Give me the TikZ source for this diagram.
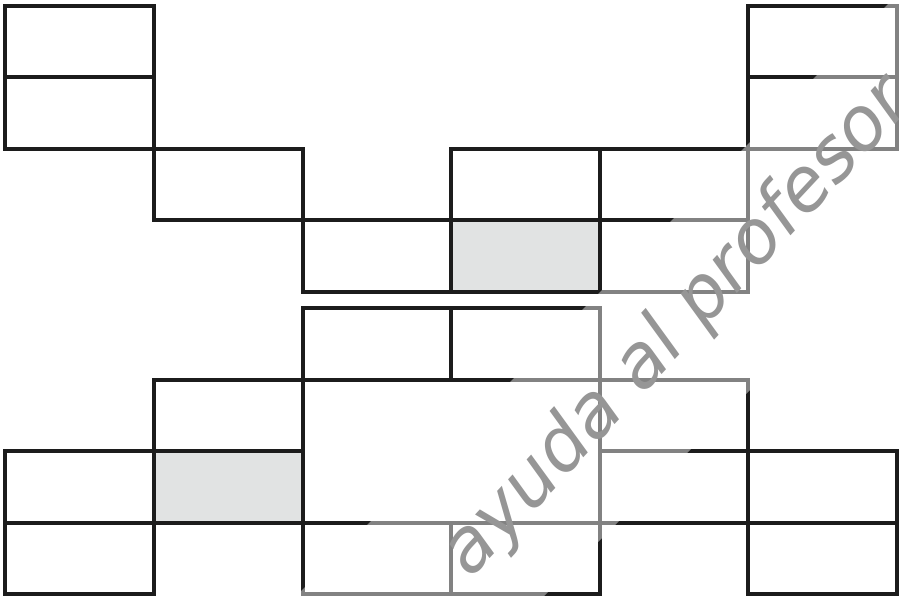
\documentclass[tikz,border=0pt]{standalone}
\usepackage{fontspec}
\newfontfamily\marcafont{DejaVu Sans}
\definecolor{rejilla}{RGB}{28,28,28}
\definecolor{celdagris}{RGB}{225,227,227}
\definecolor{marcagris}{RGB}{150,150,150}

\begin{document}
\begin{tikzpicture}[x=148.5pt, y=-71.5pt,
    linea/.style={rejilla, line width=4pt, line cap=rect, line join=miter},
    marca/.style={marcagris, font=\marcafont\itshape\fontsize{74}{74}\selectfont, inner sep=0pt}]

\useasboundingbox (-5.5pt,5.7pt) rectangle (893.5pt,-590.3pt);

% === Figura superior ===
\fill[celdagris] (3,3) rectangle (4,4);
\draw[linea] (0,0) rectangle (1,2);
\draw[linea] (0,1) -- (1,1);
\draw[linea] (1,2) rectangle (2,3);
\draw[linea] (2,3) rectangle (3,4);
\draw[linea] (3,2) rectangle (5,4);
\draw[linea] (3,3) -- (5,3);
\draw[linea] (4,2) -- (4,4);
\draw[linea] (5,0) rectangle (6,2);
\draw[linea] (5,1) -- (6,1);

% === Figura inferior ===
\begin{scope}[yshift=-302.3pt]
    \fill[celdagris] (1,2) rectangle (2,3);
    \draw[linea] (1,1) rectangle (2,3);
    \draw[linea] (1,2) -- (2,2);
    \draw[linea] (0,2) rectangle (1,4);
    \draw[linea] (0,3) -- (6,3);
    \draw[linea] (2,0) rectangle (4,4);
    \draw[linea] (2,1) -- (4,1);
    \draw[linea] (3,0) -- (3,1);
    \draw[linea] (3,3) -- (3,4);
    \draw[linea] (4,1) -- (5,1) -- (5,4);
    \draw[linea] (4,2) -- (5,2);
    \draw[linea] (5,2) rectangle (6,4);
\end{scope}

% === Marca de agua ===
\fill[white, opacity=0.45] (886.5pt,5.7pt) -- (290.5pt,-590.3pt) -- (538.5pt,-590.3pt)
    -- (893.5pt,-235.3pt) -- (893.5pt,5.7pt) -- cycle;
\node[marca, rotate=47] (marca) at (672pt,-322pt) {ayuda al profesor};

\end{tikzpicture}
\end{document}
